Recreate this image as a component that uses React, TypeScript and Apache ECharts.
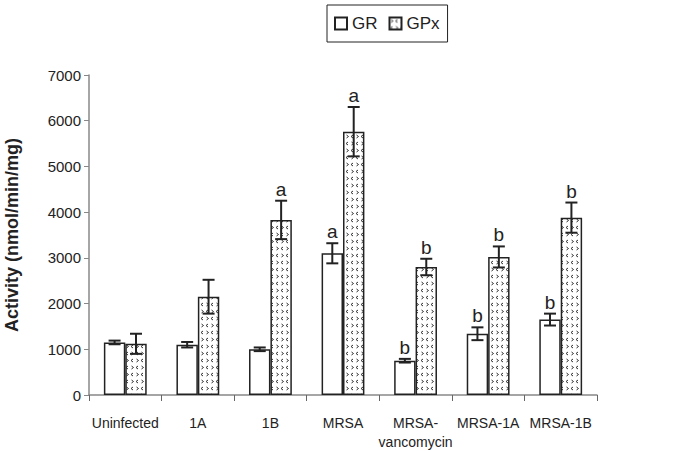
import React, { useEffect, useRef } from "react";
import * as echarts from "echarts";

const categories = ["Uninfected", "1A", "1B", "MRSA", "MRSA-\nvancomycin", "MRSA-1A", "MRSA-1B"];
const grValues = [1150, 1100, 1000, 3100, 750, 1340, 1650];
const grErrors = [40, 60, 40, 220, 40, 140, 130];
const grLetters = ["", "", "", "a", "b", "b", "b"];
const gpxValues = [1120, 2150, 3830, 5760, 2800, 3020, 3880];
const gpxErrors = [220, 370, 420, 540, 180, 230, 330];
const gpxLetters = ["", "", "a", "a", "b", "b", "b"];
const yTicks = { min: 0, max: 7000, interval: 1000 };

const CAT_GAP = 0.41;

function makePattern(): string {
  const c = document.createElement("canvas");
  c.width = 10;
  c.height = 14;
  const ctx = c.getContext("2d")!;
  ctx.fillStyle = "#ffffff";
  ctx.fillRect(0, 0, 10, 14);
  ctx.strokeStyle = "#333";
  ctx.lineWidth = 1;
  const chev = (x: number, y: number, dir: number) => {
    ctx.beginPath();
    ctx.moveTo(x, y - 1.5);
    ctx.lineTo(x + 2 * dir, y);
    ctx.lineTo(x, y + 1.5);
    ctx.stroke();
  };
  chev(1.5, 3.5, 1);
  chev(8, 3.5, -1);
  chev(3, 10.5, -1);
  chev(6.5, 10.5, 1);
  return c.toDataURL();
}

export default function App() {
  const ref = useRef<HTMLDivElement>(null);
  useEffect(() => {
    if (!ref.current) return;
    const chart = echarts.init(ref.current, null, { renderer: "svg" });
    const pattern = { image: makePattern(), repeat: "repeat" } as any;
    const font = "Liberation Sans";

    const errData: any[] = [];
    grValues.forEach((v, i) => errData.push([i, v, grErrors[i], 0, grLetters[i]]));
    gpxValues.forEach((v, i) => errData.push([i, v, gpxErrors[i], 1, gpxLetters[i]]));

    chart.setOption({
      animation: false,
      textStyle: { fontFamily: font },
      grid: { left: 89, right: 101, top: 75, bottom: 56, containLabel: false, outerBoundsMode: "none" },
      legend: {
        left: 327,
        top: 5,
        padding: [10, 8, 10, 7],
        borderColor: "#222",
        borderWidth: 1,
        itemWidth: 12,
        itemHeight: 12,
        itemGap: 11,
        icon: "rect",
        textStyle: { fontSize: 17, color: "#222", fontFamily: font },
        data: ["GR", "GPx"],
      },
      xAxis: {
        type: "category",
        data: categories,
        axisLine: { lineStyle: { color: "#888", width: 1.5 } },
        axisTick: { show: true, length: 6, lineStyle: { color: "#666" } },
        axisLabel: { fontSize: 14, color: "#222", margin: 18, lineHeight: 19, interval: 0, fontFamily: font },
      },
      yAxis: {
        type: "value",
        min: yTicks.min,
        max: yTicks.max,
        interval: yTicks.interval,
        splitLine: { show: false },
        axisLine: { show: true, lineStyle: { color: "#888", width: 1.5 } },
        axisTick: { show: true, length: 5, lineStyle: { color: "#888" } },
        axisLabel: { fontSize: 15, color: "#222", margin: 8, fontFamily: font, formatter: (v: number) => String(v) },
        name: "Activity (nmol/min/mg)",
        nameLocation: "middle",
        nameGap: 68,
        nameTextStyle: { fontSize: 18, fontWeight: "bold", color: "#222", fontFamily: font },
      },
      series: [
        {
          name: "GR",
          type: "bar",
          data: grValues,
          barGap: "0%",
          barCategoryGap: CAT_GAP * 100 + "%",
          itemStyle: { color: "#ffffff", borderColor: "#222", borderWidth: 1.5 },
        },
        {
          name: "GPx",
          type: "bar",
          data: gpxValues,
          barGap: "0%",
          barCategoryGap: CAT_GAP * 100 + "%",
          itemStyle: { color: pattern, borderColor: "#222", borderWidth: 1.5 },
        },
        {
          type: "custom",
          data: errData,
          z: 10,
          silent: true,
          renderItem: (params: any, api: any) => {
            const ci = api.value(0);
            const v = api.value(1);
            const e = api.value(2);
            const s = api.value(3);
            const letter = errData[params.dataIndex][4];
            const band = api.size([1, 0])[0];
            const bw = (band * (1 - CAT_GAP)) / 2;
            const c = api.coord([ci, v]);
            const x = c[0] + (s === 0 ? -bw / 2 : bw / 2);
            const top = api.coord([ci, v + e])[1];
            const bot = api.coord([ci, v - e])[1];
            const cap = 6;
            const ls = { stroke: "#222", lineWidth: 2 };
            const children: any[] = [
              { type: "line", shape: { x1: x, y1: top, x2: x, y2: bot }, style: ls },
              { type: "line", shape: { x1: x - cap, y1: top, x2: x + cap, y2: top }, style: ls },
              { type: "line", shape: { x1: x - cap, y1: bot, x2: x + cap, y2: bot }, style: ls },
            ];
            if (letter) {
              children.push({
                type: "text",
                style: {
                  text: letter,
                  x: x,
                  y: top - 2,
                  align: "center",
                  verticalAlign: "bottom",
                  fontSize: 19,
                  fontFamily: font,
                  fill: "#222",
                },
              });
            }
            return { type: "group", children };
          },
        },
      ],
    });
    return () => chart.dispose();
  }, []);
  return <div ref={ref} style={{ width: 698, height: 451, position: "absolute", left: 0, top: 0 }} />;
}
